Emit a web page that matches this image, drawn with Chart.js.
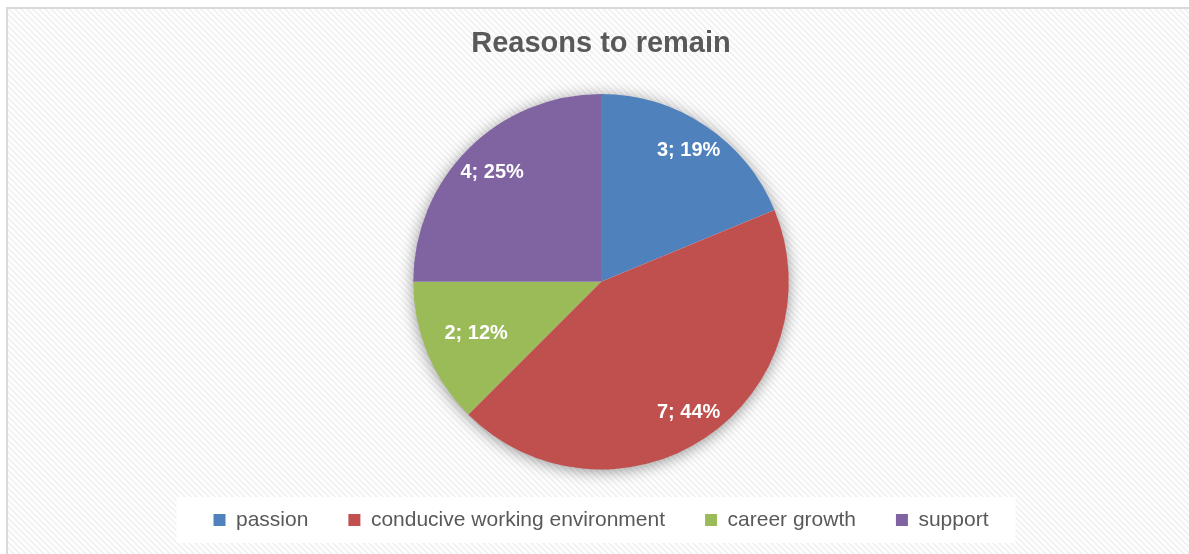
<!DOCTYPE html>
<html>
<head>
<meta charset="utf-8">
<script src="https://cdn.jsdelivr.net/npm/chart.js@4"></script>
<style>
    html, body { margin: 0; padding: 0; background: #ffffff; overflow: hidden; }
    #frame {
        position: absolute;
        left: 6px;
        top: 7px;
        width: 1200px;
        height: 560px;
        border-top: 2px solid #d9d9d9;
        border-left: 2px solid #d9d9d9;
        background: #ffffff;
    }
    #remainChart { position: absolute; left: 0; top: 0; }
</style>
</head>
<body>
<div id="frame">
    <canvas id="remainChart" width="1186" height="545"></canvas>
</div>
<script>
// chart data
const categories = ['passion', 'conducive working environment', 'career growth', 'support'];
const counts = [3, 7, 2, 4];
const percents = [19, 44, 12, 25];
const sliceColors = ['#4F81BD', '#C0504D', '#9BBB59', '#8064A2'];

// light diagonal hatch for the chart background
function hatchTile() {
    const c = document.createElement('canvas');
    c.width = 6;
    c.height = 6;
    const g = c.getContext('2d');
    g.fillStyle = '#ffffff';
    g.fillRect(0, 0, 6, 6);
    g.fillStyle = '#f3f3f3';
    for (let y = 0; y < 6; y++) {
        for (let x = 0; x < 6; x++) {
            if (((x - y) % 6 + 6) % 6 < 3) g.fillRect(x, y, 1, 1);
        }
    }
    return c.toDataURL();
}
document.getElementById('frame').style.backgroundImage = 'url(' + hatchTile() + ')';

// white labels inside the slices ("3; 19%")
const sliceLabels = {
    id: 'sliceLabels',
    afterDatasetsDraw(chart, args, opts) {
        const ctx = chart.ctx;
        const arcs = chart.getDatasetMeta(0).data;
        ctx.save();
        ctx.font = 'bold 20px "Liberation Sans", Arial, sans-serif';
        ctx.fillStyle = '#ffffff';
        ctx.textAlign = 'center';
        ctx.textBaseline = 'middle';
        arcs.forEach((arc, i) => {
            const mid = (arc.startAngle + arc.endAngle) / 2;
            const r = arc.outerRadius * opts.radius[i];
            const x = arc.x + Math.cos(mid) * r;
            const y = arc.y + Math.sin(mid) * r;
            ctx.fillText(counts[i] + '; ' + percents[i] + '%', x, y);
        });
        ctx.restore();
    }
};

// soft shadow under the pie and white panel behind the legend
const decorations = {
    id: 'decorations',
    beforeDraw(chart) {
        const ctx = chart.ctx;
        const boxes = chart.legend.legendHitBoxes;
        if (boxes && boxes.length) {
            const left = Math.min(...boxes.map(b => b.left)) - 37;
            const right = Math.max(...boxes.map(b => b.left + b.width)) + 27;
            const cy = boxes[0].top + boxes[0].height / 2;
            ctx.save();
            ctx.fillStyle = '#ffffff';
            ctx.fillRect(left, cy - 23, right - left, 46);
            ctx.restore();
        }
    },
    beforeDatasetsDraw(chart) {
        const arc = chart.getDatasetMeta(0).data[0];
        if (!arc) return;
        const ctx = chart.ctx;
        ctx.save();
        ctx.shadowColor = 'rgba(0, 0, 0, 0.45)';
        ctx.shadowBlur = 16;
        ctx.shadowOffsetY = 2;
        ctx.fillStyle = '#ffffff';
        ctx.beginPath();
        ctx.arc(arc.x, arc.y, arc.outerRadius - 1, 0, Math.PI * 2);
        ctx.fill();
        ctx.restore();
    }
};

const ctx = document.getElementById('remainChart').getContext('2d');
new Chart(ctx, {
    type: 'pie',
    data: {
        labels: categories,
        datasets: [{
            data: counts,
            backgroundColor: sliceColors,
            borderWidth: 0
        }]
    },
    options: {
        responsive: false,
        animation: false,
        layout: {
            padding: { top: 0, bottom: 13.5, left: 0, right: 0 }
        },
        plugins: {
            title: {
                display: true,
                text: 'Reasons to remain',
                color: '#595959',
                font: { family: '"Liberation Sans", Arial, sans-serif', size: 29, weight: 'bold', lineHeight: 1.2 },
                padding: { top: 17.6, bottom: 32.6 }
            },
            legend: {
                display: true,
                position: 'bottom',
                labels: {
                    color: '#595959',
                    boxWidth: 12,
                    boxHeight: 12,
                    padding: 40,
                    font: { family: '"Liberation Sans", Arial, sans-serif', size: 21 }
                }
            },
            tooltip: { enabled: false },
            sliceLabels: {
                radius: [0.84, 0.84, 0.72, 0.82]
            }
        }
    },
    plugins: [decorations, sliceLabels]
});
</script>
</body>
</html>
